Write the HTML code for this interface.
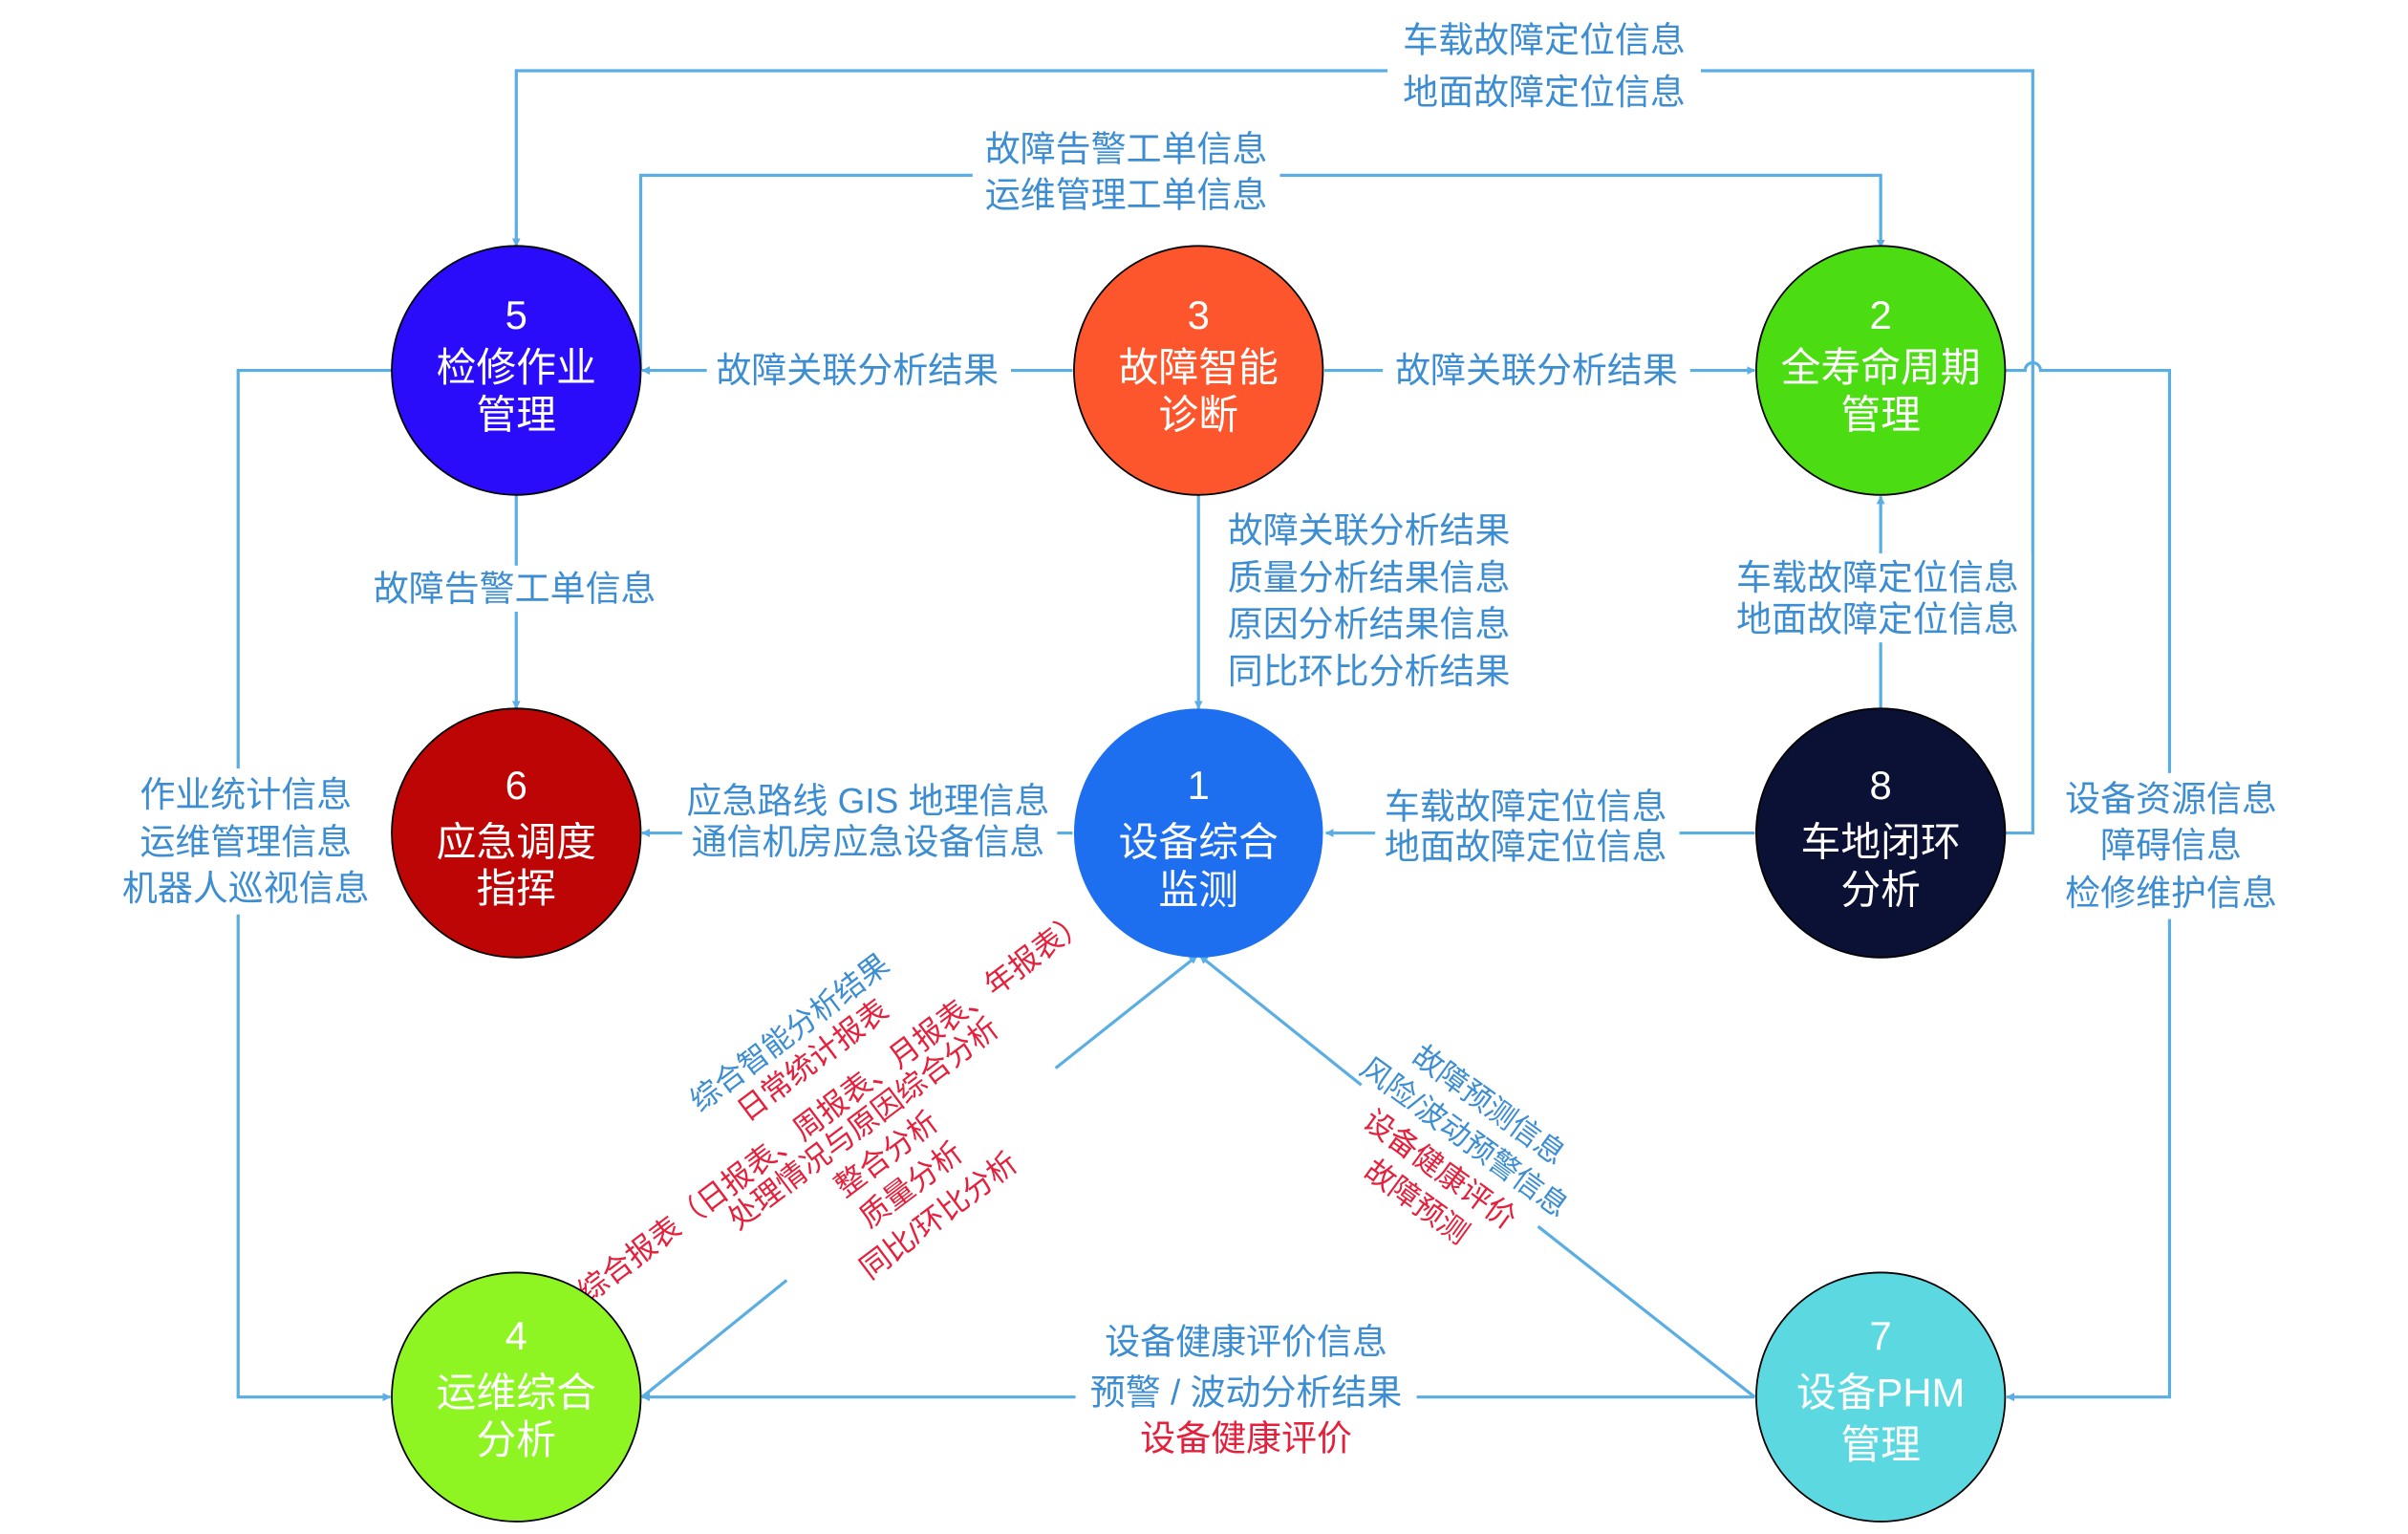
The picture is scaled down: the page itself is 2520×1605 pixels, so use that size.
<!DOCTYPE html>
<html><head><meta charset="utf-8"><style>
html,body{margin:0;padding:0;background:#fff;}
svg{display:block;}
text{font-family:"Liberation Sans","Noto Sans CJK SC",sans-serif;}
.l{fill:#3c8dd2;font-size:23px;}
.r{fill:#e5203c;font-size:23px;}
.n{fill:#fff;font-size:26px;}
.ln{fill:none;stroke:#5aaee3;stroke-width:2;}
.dl{font-size:19.5px;}
</style></head><body>
<svg width="2520" height="1605" viewBox="0 0 1567.2 998.1" xmlns="http://www.w3.org/2000/svg">
<defs>
<marker id="a" viewBox="0 0 10 10" refX="9" refY="5" markerWidth="5.5" markerHeight="5.5" orient="auto" markerUnits="userSpaceOnUse">
<path d="M0,0 L10,5 L0,10 Z" fill="#5aaee3"/></marker>
</defs>
<!-- connectors -->
<path class="ln" d="M1305,542 H1323 V46 H336 V160" marker-end="url(#a)"/>
<path class="ln" d="M417,241 V114 H1224 V161" marker-end="url(#a)"/>
<path class="ln" d="M698,241 H418" marker-end="url(#a)"/>
<path class="ln" d="M862,241 H1142" marker-end="url(#a)"/>
<path class="ln" d="M780,322 V461" marker-end="url(#a)"/>
<path class="ln" d="M336,322 V461" marker-end="url(#a)"/>
<path class="ln" d="M1224,461 V323" marker-end="url(#a)"/>
<path class="ln" d="M1142,542 H863" marker-end="url(#a)"/>
<path class="ln" d="M698,542 H418" marker-end="url(#a)"/>
<path class="ln" d="M255,241 H155 V909 H254" marker-end="url(#a)"/>
<path class="ln" d="M1305,241 H1318 A5,5 0 0 1 1328,241 H1412 V909 H1306" marker-end="url(#a)"/>
<path class="ln" d="M1142,909 H418" marker-end="url(#a)"/>
<path class="ln" d="M418,909 L512,833"/>
<path class="ln" d="M687,695 L779,622" marker-end="url(#a)"/>
<path class="ln" d="M1142,909 L1001,798"/>
<path class="ln" d="M886,706 L781,622" marker-end="url(#a)"/>
<!-- label backgrounds -->
<g fill="#fff">
<rect x="903" y="8" width="204" height="68"/>
<rect x="633" y="80" width="200" height="63"/>
<rect x="460" y="226" width="198" height="30"/>
<rect x="900" y="226" width="200" height="30"/>
<rect x="236" y="368" width="200" height="30"/>
<rect x="1124" y="360" width="198" height="58"/>
<rect x="895" y="508" width="198" height="60"/>
<rect x="444" y="505" width="244" height="60"/>
<rect x="76" y="500" width="170" height="95"/>
<rect x="1338" y="503" width="150" height="95"/>
<rect x="700" y="856" width="222" height="100"/>
</g>
<!-- labels -->
<g class="l" text-anchor="middle" dominant-baseline="central">
<text x="1005" y="26">车载故障定位信息</text>
<text x="1005" y="60">地面故障定位信息</text>
<text x="733" y="97">故障告警工单信息</text>
<text x="733" y="127">运维管理工单信息</text>
<text x="558" y="241">故障关联分析结果</text>
<text x="1000" y="241">故障关联分析结果</text>
<text x="335" y="383">故障告警工单信息</text>
<text x="1222" y="376">车载故障定位信息</text>
<text x="1222" y="403">地面故障定位信息</text>
<text x="993" y="525">车载故障定位信息</text>
<text x="993" y="551">地面故障定位信息</text>
<text x="565" y="521">应急路线 GIS 地理信息</text>
<text x="565" y="548">通信机房应急设备信息</text>
<text x="160" y="517">作业统计信息</text>
<text x="160" y="548">运维管理信息</text>
<text x="160" y="578">机器人巡视信息</text>
<text x="1413" y="520">设备资源信息</text>
<text x="1413" y="550">障碍信息</text>
<text x="1413" y="581">检修维护信息</text>
<text x="811" y="873">设备健康评价信息</text>
<text x="811" y="906">预警 / 波动分析结果</text>
<text x="811" y="936" class="r">设备健康评价</text>
</g>
<g class="l" dominant-baseline="central">
<text x="799" y="345">故障关联分析结果</text>
<text x="799" y="376">质量分析结果信息</text>
<text x="799" y="406">原因分析结果信息</text>
<text x="799" y="437">同比环比分析结果</text>
</g>
<!-- diagonal labels -->
<g text-anchor="middle" dominant-baseline="central">
<text class="l dl" x="514" y="672" transform="rotate(-37 514 672)">综合智能分析结果</text>
<text class="r dl" x="529" y="690" transform="rotate(-37 529 690)">日常统计报表</text>
<text class="r dl" x="542" y="720" transform="rotate(-37 542 720)">综合报表（日报表、周报表、月报表、年报表）</text>
<text class="r dl" x="562" y="731" transform="rotate(-37 562 731)">处理情况与原因综合分析</text>
<text class="r dl" x="577" y="751" transform="rotate(-37 577 751)">整合分析</text>
<text class="r dl" x="593" y="771" transform="rotate(-37 593 771)">质量分析</text>
<text class="r dl" x="611" y="791" transform="rotate(-37 611 791)">同比/环比分析</text>
<text class="l dl" x="969" y="719" transform="rotate(36 969 719)">故障预测信息</text>
<text class="l dl" x="953" y="740" transform="rotate(36 953 740)">风险/波动预警信息</text>
<text class="r dl" x="937" y="761" transform="rotate(36 937 761)">设备健康评价</text>
<text class="r dl" x="922" y="782" transform="rotate(36 922 782)">故障预测</text>
</g>
<!-- nodes -->
<g stroke="#000" stroke-width="1.1">
<circle cx="336" cy="241" r="81" fill="#2a0cfa"/>
<circle cx="780" cy="241" r="81" fill="#fe562c"/>
<circle cx="1224" cy="241" r="81" fill="#4cdc12"/>
<circle cx="336" cy="542" r="81" fill="#bd0505"/>
<circle cx="780" cy="542" r="81" fill="#1d6ff0" stroke="none"/>
<circle cx="1224" cy="542" r="81" fill="#0b1135"/>
<circle cx="336" cy="909" r="81" fill="#8ef422"/>
<circle cx="1224" cy="909" r="81" fill="#5cd9e0"/>
</g>
<g class="n" text-anchor="middle" dominant-baseline="central">
<text x="336" y="205">5</text><text x="336" y="239">检修作业</text><text x="336" y="270">管理</text>
<text x="780" y="205">3</text><text x="780" y="239">故障智能</text><text x="780" y="270">诊断</text>
<text x="1224" y="205">2</text><text x="1224" y="239">全寿命周期</text><text x="1224" y="270">管理</text>
<text x="336" y="511">6</text><text x="336" y="548">应急调度</text><text x="336" y="578">指挥</text>
<text x="780" y="511">1</text><text x="780" y="548">设备综合</text><text x="780" y="579">监测</text>
<text x="1224" y="511">8</text><text x="1224" y="548">车地闭环</text><text x="1224" y="579">分析</text>
<text x="336" y="869">4</text><text x="336" y="906">运维综合</text><text x="336" y="937">分析</text>
<text x="1224" y="869">7</text><text x="1224" y="906">设备PHM</text><text x="1224" y="940">管理</text>
</g>
</svg>
</body></html>
